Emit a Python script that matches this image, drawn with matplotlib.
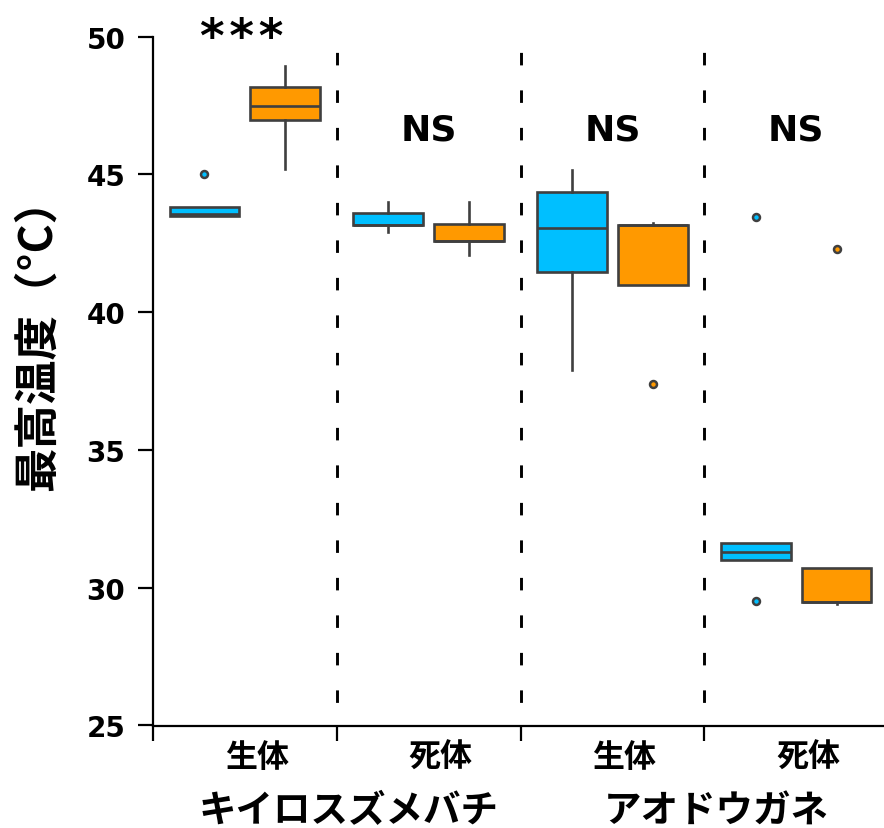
import numpy as np
import matplotlib
matplotlib.use("Agg")
import matplotlib.pyplot as plt
import matplotlib.transforms as mtransforms

plt.rcParams['font.family'] = ['DejaVu Sans', 'Noto Sans CJK JP']
plt.rcParams['lines.scale_dashes'] = False

# values (max temperature, °C)
conditions = ["生体", "死体", "生体", "死体"]
species = ["キイロスズメバチ", "アオドウガネ"]
signif = ["***", "NS", "NS", "NS"]

# blue series, one value per condition
blue_whislo = [43.48, 42.90, 37.90, 31.00]
blue_q1     = [43.48, 43.17, 41.47, 31.00]
blue_med    = [43.56, 43.17, 43.07, 31.29]
blue_q3     = [43.81, 43.60, 44.37, 31.61]
blue_whishi = [43.81, 43.99, 45.16, 31.61]
blue_fliers = [[45.0], [], [], [29.52, 43.47]]

# orange series
orange_whislo = [45.20, 42.09, 40.99, 29.42]
orange_q1     = [46.98, 42.58, 40.99, 29.50]
orange_med    = [47.47, 42.58, 43.18, 29.50]
orange_q3     = [48.19, 43.19, 43.18, 30.70]
orange_whishi = [48.95, 44.00, 43.25, 30.70]
orange_fliers = [[], [], [37.38], [42.28]]

BLUE = "#00BFFF"
ORANGE = "#FF9900"
EDGE = "#3F3F3F"
JP = ["Noto Sans CJK JP", "DejaVu Sans"]


def make_stats(lo, q1, med, q3, hi, fliers):
    return [dict(whislo=a, q1=b, med=c, q3=d, whishi=e, fliers=f)
            for a, b, c, d, e, f in zip(lo, q1, med, q3, hi, fliers)]


def draw_boxes(ax, stats, positions, color):
    ax.bxp(stats, positions=positions, widths=0.38, patch_artist=True,
           showcaps=False,
           boxprops=dict(facecolor=color, edgecolor=EDGE, linewidth=1.9),
           whiskerprops=dict(color=EDGE, linewidth=1.9),
           medianprops=dict(color=EDGE, linewidth=1.9),
           flierprops=dict(marker="o", markersize=5, markerfacecolor=color,
                           markeredgecolor=EDGE, markeredgewidth=1.8))


fig = plt.figure(figsize=(8.84, 8.29), dpi=100)
ax = fig.add_axes([153 / 884, 102.5 / 829, 735 / 884, 688.8 / 829])

x = np.arange(len(conditions))
draw_boxes(ax, make_stats(blue_whislo, blue_q1, blue_med, blue_q3,
                          blue_whishi, blue_fliers), x - 0.22, BLUE)
draw_boxes(ax, make_stats(orange_whislo, orange_q1, orange_med, orange_q3,
                          orange_whishi, orange_fliers), x + 0.22, ORANGE)

# dashed separators between groups
for b in x[:-1] + 0.5:
    ax.axvline(b, color="black", linewidth=2.1, linestyle=(10, (9, 18)))

# significance marks (hair spaces spread the stars like the original)
ax.text(x[0] - 0.02, 49.93, "\u200a".join(signif[0]), ha="center",
        va="center", fontsize=34, fontweight="bold", clip_on=False)
for i in x[1:]:
    ax.text(i, 46.63, signif[i], ha="center", va="center", fontsize=26,
            fontweight="bold")

ax.set_xlim(-0.5, 3.5)
ax.set_ylim(25, 50)
ax.set_yticks(np.arange(25, 51, 5))
for lab in ax.get_yticklabels():
    lab.set_fontweight("bold")
ax.tick_params(axis="y", labelsize=20, length=11, width=1.6, pad=9)

ax.set_xticks(x)
ax.set_xticklabels(conditions, fontsize=23, fontweight="bold", family=JP)
ax.set_xticks(np.arange(-0.5, 3.0, 1.0), minor=True)
ax.tick_params(axis="x", which="major", length=0, pad=11)
ax.tick_params(axis="x", which="minor", length=11, width=1.6)
shift = mtransforms.ScaledTranslation(12 / 100, 0, fig.dpi_scale_trans)
for lab in ax.get_xticklabels():
    lab.set_transform(lab.get_transform() + shift)

# species labels under the condition labels
trans = mtransforms.blended_transform_factory(ax.transData, ax.transAxes) + shift
for sp, cx in zip(species, [0.5, 2.5]):
    ax.text(cx, -0.1227, sp, transform=trans, ha="center", va="center",
            fontsize=27, fontweight="bold", family=JP)

ax.set_ylabel("最高温度（°C）", fontsize=32, fontweight="bold", family=JP,
              va="center")
ax.yaxis.set_label_coords(-0.157, 0.57)

for side in ["top", "right"]:
    ax.spines[side].set_visible(False)
for side in ["left", "bottom"]:
    ax.spines[side].set_linewidth(1.6)

fig.savefig("out.png", dpi=100)
